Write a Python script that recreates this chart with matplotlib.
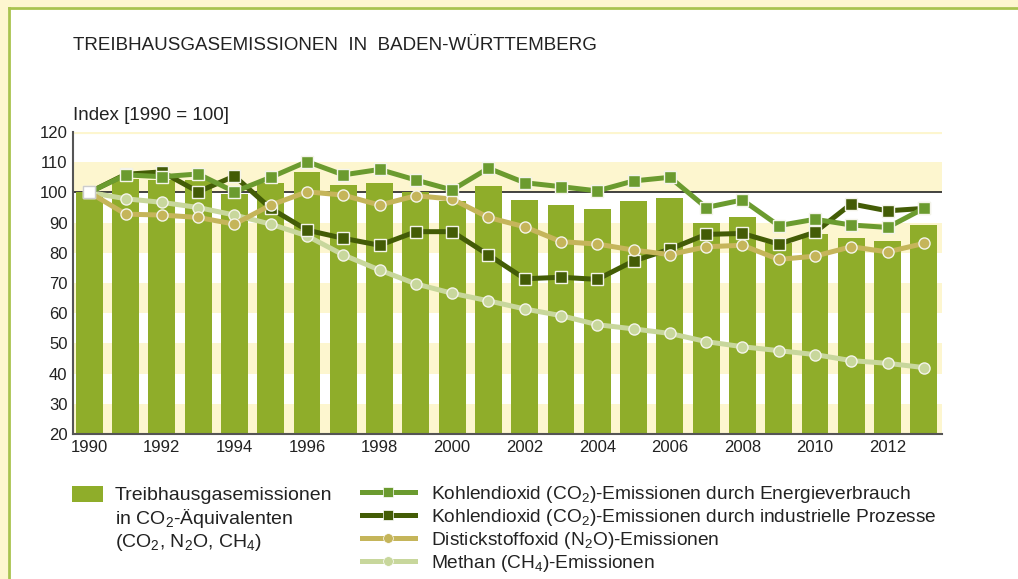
import matplotlib
matplotlib.use("Agg")
import matplotlib.pyplot as plt
from matplotlib.patches import Rectangle
from matplotlib.lines import Line2D

plt.rcParams['font.family'] = ['Liberation Sans', 'DejaVu Sans']
plt.rcParams['mathtext.fontset'] = 'custom'
plt.rcParams['mathtext.rm'] = 'Liberation Sans'
plt.rcParams['mathtext.it'] = 'Liberation Sans'

years = list(range(1990, 2014))

# Treibhausgasemissionen in CO2-Aequivalenten (bars)
ghg_total = [100, 104.6, 104.2, 104.0, 99.5, 103.0, 106.9, 102.5, 103.2, 100.2, 97.3, 102.2,
             97.5, 95.8, 94.5, 97.1, 98.1, 89.8, 91.9, 83.2, 86.2, 84.9, 83.9, 89.2]

co2_energy = [100, 105.8, 105.2, 106.1, 100.2, 105.0, 110.2, 105.8, 107.6, 104.1, 100.8, 108.0,
              103.2, 101.9, 100.5, 103.8, 105.0, 95.0, 97.5, 89.0, 91.1, 89.2, 88.4, 94.7]

co2_industry = [100, 106.0, 106.8, 100.2, 105.4, 94.7, 87.5, 84.8, 82.5, 87.0, 87.0, 79.3,
                71.4, 71.9, 71.2, 77.3, 81.2, 86.1, 86.4, 82.9, 86.8, 96.2, 93.9, 94.7]

n2o = [100, 92.8, 92.5, 91.7, 89.5, 95.8, 100.2, 99.1, 95.8, 98.9, 97.8, 91.7,
       88.6, 83.7, 82.9, 80.9, 79.4, 82.0, 82.5, 77.8, 78.9, 82.0, 80.3, 83.1]

ch4 = [100, 97.9, 96.7, 95.0, 92.5, 89.5, 85.6, 79.3, 74.3, 69.7, 66.6, 64.1,
       61.4, 59.2, 56.2, 54.8, 53.3, 50.6, 48.9, 47.6, 46.3, 44.3, 43.4, 42.0]

yticks = list(range(20, 121, 10))
xticks = list(range(1990, 2013, 2))

c_bar = '#8fad2a'
c_energy = '#6b9b2f'
c_industry = '#435c06'
c_n2o = '#c5b55a'
c_ch4 = '#c8d79c'
c_band = '#fdf6cf'
c_frame = '#a9c34e'
c_text = '#222222'

fig = plt.figure(figsize=(10.18, 5.79), dpi=100)
fig.patch.set_facecolor('white')

# frame: yellow strip top/left with green edge
fig.patches.append(Rectangle((0, 1 - 7 / 579), 1, 7 / 579, transform=fig.transFigure,
                             facecolor=c_band, edgecolor='none', zorder=0))
fig.patches.append(Rectangle((0, 0), 8 / 1018, 1, transform=fig.transFigure,
                             facecolor=c_band, edgecolor='none', zorder=0))
fig.add_artist(Line2D([8.5 / 1018, 1], [1 - 7.5 / 579, 1 - 7.5 / 579], transform=fig.transFigure,
                      color=c_frame, lw=2))
fig.add_artist(Line2D([8.5 / 1018, 8.5 / 1018], [0, 1 - 7.5 / 579], transform=fig.transFigure,
                      color=c_frame, lw=2))

ax = fig.add_axes([73 / 1018, 1 - 434 / 579, (942 - 73) / 1018, (434 - 132) / 579])
ax.set_xlim(1989.55, 2013.5)
ax.set_ylim(20, 120)

# background bands
for lo in [20, 40, 60, 80, 100]:
    ax.axhspan(lo, lo + 10, color=c_band, lw=0, zorder=0)
ax.axhline(120, color=c_band, lw=3, zorder=0)
ax.axhline(100, color=c_text, lw=1.2, zorder=1)

ax.bar(years, ghg_total, width=0.74, color=c_bar, zorder=2)

mk = dict(markersize=8, markeredgecolor='#f4f4ea', markeredgewidth=1)
ax.plot(years, ch4, color=c_ch4, lw=3.6, marker='o', zorder=3, **mk)
ax.plot(years, co2_industry, color=c_industry, lw=3.6, marker='s', zorder=4, **mk)
ax.plot(years, n2o, color=c_n2o, lw=3.6, marker='o', zorder=5, **mk)
ax.plot(years, co2_energy, color=c_energy, lw=3.6, marker='s', zorder=6, **mk)
# base year marker
ax.plot(years[0], co2_energy[0], marker='s', markersize=9, markerfacecolor='white',
        markeredgecolor='#cccccc', markeredgewidth=1, zorder=7)

ax.set_yticks(yticks)
ax.set_xticks(xticks)
ax.tick_params(length=0, labelsize=12, colors=c_text, pad=4)
for s in ['top', 'right']:
    ax.spines[s].set_visible(False)
for s in ['left', 'bottom']:
    ax.spines[s].set_color('#555555')
    ax.spines[s].set_linewidth(1.5)
    ax.spines[s].set_zorder(8)

fig.text(73 / 1018, 1 - 45 / 579, 'TREIBHAUSGASEMISSIONEN  IN  BADEN-WÜRTTEMBERG',
         fontsize=13.5, va='center', ha='left', color=c_text)
fig.text(73 / 1018, 1 - 116 / 579, 'Index [1990 = 100]', fontsize=13.5,
         va='center', ha='left', color=c_text)

# legend for bars
fig.patches.append(Rectangle((72 / 1018, 1 - 502 / 579), 31 / 1018, 16 / 579,
                             transform=fig.transFigure, facecolor=c_bar, edgecolor='none'))
fig.text(115 / 1018, 1 - 487 / 579,
         'Treibhausgasemissionen\nin CO$_2$-Äquivalenten\n(CO$_2$, N$_2$O, CH$_4$)',
         fontsize=14, va='top', ha='left', linespacing=1.15, color=c_text)

# legend for lines
hk = dict(lw=3.6, markersize=7, markeredgecolor='white', markeredgewidth=0.5)
handles = [
    Line2D([], [], color=c_energy, marker='s', **hk),
    Line2D([], [], color=c_industry, marker='s', **hk),
    Line2D([], [], color=c_n2o, marker='o', **hk),
    Line2D([], [], color=c_ch4, marker='o', **hk),
]
labels = [
    'Kohlendioxid (CO$_2$)-Emissionen durch Energieverbrauch',
    'Kohlendioxid (CO$_2$)-Emissionen durch industrielle Prozesse',
    'Distickstoffoxid (N$_2$O)-Emissionen',
    'Methan (CH$_4$)-Emissionen',
]
leg = fig.legend(handles, labels, loc='upper left', bbox_to_anchor=(362 / 1018, 1 - 484 / 579),
                 frameon=False, fontsize=13.8, handlelength=2.75, numpoints=1,
                 labelspacing=0.1, handletextpad=0.85, borderaxespad=0, borderpad=0)
for t in leg.get_texts():
    t.set_color(c_text)

fig.savefig('out.png', dpi=100, facecolor='white')
